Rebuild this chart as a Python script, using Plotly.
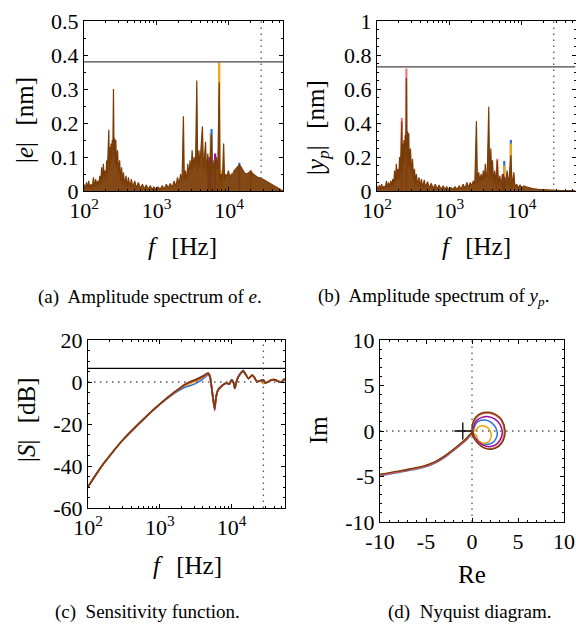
import plotly.graph_objects as go

SERIF = "Liberation Serif"
W, H = 576, 626

# ---------------- data ----------------
# colours of the five runs
C_BLUE = "#2a6fdb"
C_ORANGE = "#f0a30a"
C_PURPLE = "#9b0a9b"
C_PINK = "#f07878"
C_BROWN = "#7a3c06"

F_MAX = 55600.0
F_MARK = 27800.0

# (a) amplitude spectrum of e  [nm]
E_F = [100, 104, 108, 112, 116, 120, 125, 130, 135, 140, 145, 150, 155, 160, 165, 170, 175, 180, 185, 190,
       195, 200, 205, 210, 215, 220, 224, 228, 232, 236, 240, 245, 250, 255, 260, 265, 270, 275, 280, 290,
       300, 310, 320, 330, 340, 350, 365, 380, 395, 410, 430, 450, 470, 500, 530, 560, 600, 640, 680, 720,
       770, 820, 870, 920, 980, 1050, 1120, 1200, 1280, 1370, 1450, 1550, 1650, 1750, 1850, 1950, 2050, 2150,
       2250, 2350, 2420, 2500, 2600, 2700, 2800, 2900, 3000, 3100, 3200, 3300, 3450, 3600, 3700, 3850, 3950,
       4100, 4300, 4450, 4600, 4750, 4900, 5100, 5300, 5500, 5750, 5950, 6200, 6450, 6700, 7000, 7330, 7550,
       7800, 8100, 8440, 8700, 9000, 9400, 9800, 10300, 10800, 11300, 11800, 12400, 13100, 13900, 14700,
       15500, 16500, 17500, 18500, 20000, 21500, 23000, 25000, 27500, 30000, 33000, 36000, 40000, 44000,
       48000, 52000, 55600]
E_A = [0.02, 0.005, 0.025, 0.01, 0.03, 0.008, 0.02, 0.01, 0.04, 0.012, 0.035, 0.015, 0.03, 0.02, 0.045, 0.02,
       0.07, 0.03, 0.08, 0.04, 0.06, 0.03, 0.09, 0.05, 0.12, 0.18, 0.06, 0.13, 0.08, 0.14, 0.09, 0.15, 0.12,
       0.30, 0.10, 0.155, 0.08, 0.15, 0.07, 0.12, 0.05, 0.09, 0.03, 0.07, 0.02, 0.055, 0.015, 0.045, 0.01,
       0.04, 0.01, 0.035, 0.01, 0.03, 0.008, 0.025, 0.008, 0.02, 0.006, 0.018, 0.006, 0.015, 0.005, 0.012,
       0.005, 0.012, 0.005, 0.015, 0.006, 0.02, 0.008, 0.022, 0.01, 0.03, 0.012, 0.04, 0.02, 0.05, 0.025,
       0.22, 0.03, 0.06, 0.03, 0.08, 0.04, 0.09, 0.05, 0.12, 0.06, 0.10, 0.07, 0.325, 0.06, 0.12, 0.07,
       0.13, 0.19, 0.06, 0.10, 0.145, 0.05, 0.11, 0.04, 0.12, 0.165, 0.04, 0.09, 0.05, 0.10, 0.06, 0.32,
       0.03, 0.05, 0.03, 0.14, 0.03, 0.05, 0.04, 0.06, 0.04, 0.05, 0.05, 0.06, 0.065, 0.07, 0.077, 0.07,
       0.06, 0.052, 0.05, 0.053, 0.058, 0.05, 0.045, 0.04, 0.038, 0.033, 0.03, 0.025, 0.018, 0.012,
       0.007, 0.003, 0.0]
E_LIMIT = 0.38
# peaks where the other runs show above the brown one: (freq, amp)
E_PEAKS = {
    C_ORANGE: ([5600, 7330, 8000], [0.17, 0.378, 0.06]),
    C_BLUE: ([5750, 13900], [0.182, 0.083]),
    C_PURPLE: ([5200, 5400, 6450], [0.09, 0.10, 0.11]),
    C_PINK: ([20000], [0.062]),
}

# (b) amplitude spectrum of y_p  [nm]
Y_F = [100, 104, 108, 112, 116, 120, 125, 130, 135, 140, 145, 150, 155, 160, 165, 170, 175, 180, 185, 190,
       195, 200, 205, 210, 215, 220, 224, 228, 232, 236, 240, 245, 250, 255, 260, 265, 270, 275, 280, 290,
       300, 310, 320, 330, 340, 350, 365, 380, 395, 410, 430, 450, 470, 500, 530, 560, 600, 640, 680, 720,
       770, 820, 870, 920, 980, 1050, 1120, 1200, 1280, 1370, 1450, 1550, 1650, 1750, 1850, 1950, 2050, 2150,
       2250, 2370, 2450, 2550, 2650, 2750, 2850, 2950, 3050, 3150, 3250, 3350, 3510, 3620, 3750, 3850, 3950,
       4100, 4250, 4400, 4600, 4800, 5000, 5200, 5450, 5750, 6000, 6300, 6600, 7100, 7400, 7800, 8100, 8500,
       9000, 9500, 10000, 10700, 11500, 12500, 13500, 15000, 17000, 19000, 21000, 24000, 27000, 30000,
       35000, 40000, 47000, 55600]
Y_A = [0.03, 0.01, 0.035, 0.012, 0.04, 0.01, 0.03, 0.015, 0.06, 0.02, 0.05, 0.02, 0.06, 0.03, 0.07, 0.03,
       0.12, 0.05, 0.16, 0.06, 0.13, 0.07, 0.20, 0.10, 0.25, 0.41, 0.12, 0.28, 0.16, 0.30, 0.18, 0.33, 0.25,
       0.665, 0.20, 0.35, 0.15, 0.34, 0.14, 0.25, 0.10, 0.19, 0.06, 0.13, 0.04, 0.10, 0.03, 0.08, 0.02, 0.07,
       0.02, 0.065, 0.02, 0.055, 0.015, 0.045, 0.015, 0.04, 0.01, 0.035, 0.01, 0.03, 0.01, 0.025, 0.008,
       0.02, 0.01, 0.025, 0.01, 0.03, 0.012, 0.04, 0.015, 0.05, 0.02, 0.05, 0.03, 0.06, 0.035, 0.41, 0.04,
       0.11, 0.05, 0.10, 0.06, 0.12, 0.07, 0.16, 0.08, 0.10, 0.496, 0.06, 0.25, 0.08, 0.18, 0.05, 0.12, 0.04,
       0.18, 0.04, 0.09, 0.03, 0.10, 0.08, 0.03, 0.12, 0.03, 0.21, 0.02, 0.11, 0.02, 0.04, 0.02, 0.035,
       0.02, 0.03, 0.025, 0.02, 0.015, 0.012, 0.01, 0.008, 0.006, 0.005, 0.004, 0.004, 0.003, 0.003,
       0.002, 0.002]
Y_LIMIT = 0.73
Y_PEAKS = {
    C_PINK: ([220, 255, 4600], [0.43, 0.72, 0.19]),
    C_BLUE: ([5750, 7100], [0.176, 0.30]),
    C_ORANGE: ([5750, 7100], [0.15, 0.28]),
    C_PURPLE: ([5500, 5800], [0.10, 0.08]),
}

# (c) sensitivity function [dB]
S_F = [100, 130, 168, 220, 321, 450, 615, 850, 1175, 1600, 2000, 2250, 2700, 3090, 3600, 4200, 4700, 5000,
       5400, 5820, 6100, 6480, 7000, 7600, 8500, 9300, 10000, 10600, 11100, 11900, 13000, 14600, 15800,
       17200, 19500, 21000, 22500, 25000, 27900, 29500, 32900, 36000, 40800, 45000, 50000, 53000, 55600]
S_BLUE = [-49.9, -43.9, -38.5, -33.4, -26.8, -21.7, -17.2, -12.8, -8.8, -5.4, -3.3, -2.5, -1.7, -0.9, 0.4, 2.1,
          3.4, 2.4, -4.6, -11.8, -6.6, -3.6, -2.3, -1.3, -0.4, -0.9, 1.1, 0.1, -2.8, 1.2, 3.8, 5.6, 3.6,
          1.8, 3.2, 2.0, 0.3, 0.5, 1.0, -0.4, 0.3, 1.0, 0.9, 0.3, 0.1, 1.0, 1.4]
S_ORANGE = [-49.9, -43.9, -38.5, -33.4, -26.8, -21.7, -17.2, -12.7, -8.6, -5.0, -2.7, -1.7, -0.6, 0.2, 1.3, 2.6,
            4.0, 2.8, -5.0, -12.2, -6.8, -3.7, -2.4, -1.3, -0.5, -1.0, 0.9, -0.1, -3.0, 1.0, 3.4, 5.0, 3.4,
            1.6, 3.4, 1.9, 0.4, 0.4, -0.8, -0.6, 0.4, 1.2, 1.1, 0.3, 0.2, 1.2, 1.8]
S_PURPLE = [-49.9, -43.9, -38.5, -33.4, -26.8, -21.7, -17.2, -12.7, -8.5, -4.8, -2.4, -1.2, 0.0, 0.8, 1.8, 3.0,
            4.2, 2.4, -6.0, -13.5, -7.4, -4.0, -2.6, -1.5, -0.6, -1.1, 0.9, -0.1, -3.2, 0.9, 3.4, 5.0, 3.4,
            1.6, 3.2, 1.9, 0.1, 0.6, 0.9, -0.5, 0.2, 0.9, 1.0, 0.2, -0.1, 0.9, 1.5]
S_PINK = [-49.9, -43.9, -38.5, -33.4, -26.8, -21.7, -17.2, -12.7, -8.5, -4.8, -2.3, -1.1, 0.3, 1.1, 2.1, 3.3,
          4.4, 3.1, -5.0, -12.6, -7.0, -3.8, -2.5, -1.4, -0.5, -1.0, 1.0, 0.0, -3.0, 1.0, 3.5, 5.2, 3.5,
          1.7, 3.3, 2.0, 0.2, 0.6, 1.0, -0.5, 0.2, 1.0, 1.0, 0.2, 0.0, 1.0, 1.5]
S_BROWN = [-49.9, -43.9, -38.5, -33.4, -26.8, -21.7, -17.2, -12.7, -8.5, -4.8, -2.4, -1.2, 0.3, 1.0, 2.0, 3.2,
           4.3, 3.0, -5.0, -12.8, -7.0, -3.8, -2.5, -1.4, -0.5, -1.0, 1.0, 0.0, -3.0, 1.0, 3.5, 5.2, 3.5,
           1.7, 3.3, 2.0, 0.2, 0.6, 1.0, -0.5, 0.2, 1.0, 1.0, 0.2, 0.0, 1.0, 1.5]
S_LIMIT = 6.5

# (d) Nyquist diagram: common low-frequency tail, then one loop per run
TAIL_RE = [-10, -8, -6.5, -5.3, -4, -3, -2.4, -1.7, -0.95, -0.5, -0.2, 0.0]
TAIL_IM = [-4.8, -4.45, -4.15, -3.9, -3.4, -2.8, -2.35, -1.8, -1.17, -0.75, -0.4, -0.2]
LOOP_BLUE_RE = [0.0, 0.25, 0.45, 0.85, 1.4, 2.0, 2.5, 2.75, 2.6, 2.2, 1.6, 1.0, 0.5, 0.2, 0.1]
LOOP_BLUE_IM = [-0.2, 0.4, 0.85, 1.15, 1.2, 1.0, 0.5, -0.2, -0.85, -1.3, -1.46, -1.3, -0.9, -0.5, -0.3]
LOOP_ORANGE_RE = [0.0, 0.5, 0.7, 1.05, 1.5, 1.9, 2.1, 2.0, 1.7, 1.3, 0.9, 0.6, 0.5, 0.3]
LOOP_ORANGE_IM = [-0.2, 0.2, 0.45, 0.58, 0.5, 0.15, -0.4, -0.9, -1.25, -1.35, -1.2, -0.85, -0.5, -0.3]
LOOP_PURPLE_RE = [0.0, 0.2, 0.55, 1.1, 1.8, 2.5, 3.05, 3.3, 3.1, 2.6, 1.9, 1.2, 0.6, 0.25, 0.1]
LOOP_PURPLE_IM = [-0.2, 0.6, 1.2, 1.5, 1.57, 1.3, 0.7, -0.1, -0.9, -1.5, -1.72, -1.55, -1.1, -0.6, -0.3]
LOOP_PINK_RE = [0.0, 0.1, 0.45, 1.05, 1.8, 2.6, 3.2, 3.5, 3.3, 2.8, 2.0, 1.2, 0.6, 0.2, 0.05]
LOOP_PINK_IM = [-0.2, 0.75, 1.4, 1.85, 1.95, 1.7, 1.1, 0.0, -1.0, -1.65, -1.95, -1.8, -1.3, -0.7, -0.3]
LOOP_BROWN_RE = [0.0, 0.07, 0.4, 1.0, 1.8, 2.6, 3.25, 3.6, 3.4, 2.9, 2.1, 1.3, 0.65, 0.2, 0.0, 0.25, -0.05, 0.2, 0.05]
LOOP_BROWN_IM = [-0.2, 0.8, 1.5, 1.95, 2.05, 1.8, 1.2, 0.0, -1.05, -1.7, -2.0, -1.85, -1.35, -0.75, -0.3, -0.55, -0.1, -0.4, 0.05]
CRIT_RE = [-1.0]
CRIT_IM = [0.0]
NYQ_TICKS = [-10, -5, 0, 5, 10]

# ---------------- layout helpers (page pixel -> paper) ----------------
def px_x(p):
    return p / W

def px_y(p):
    return 1 - p / H

DOM = {
    "a": ([84, 283], [21, 191]),
    "b": ([377, 575.5], [21, 191]),
    "c": ([88, 285], [340, 508]),
    "d": ([380, 564], [340, 522]),
}

DOT = "1.5px,4.5px"

fig = go.Figure()
TICKFONT = dict(family=SERIF, size=22, color="black")


def base_axis(dom, horizontal):
    lo, hi = dom
    if horizontal:
        d = [px_x(lo), px_x(hi)]
    else:
        d = [px_y(hi), px_y(lo)]
    return dict(domain=d, showline=True, linecolor="black", linewidth=1, mirror="allticks",
                ticks="inside", ticklen=4, tickcolor="black", tickwidth=1, showgrid=False,
                zeroline=False, tickfont=TICKFONT, fixedrange=True, automargin=False)


def log_x_axis(dom):
    ax = base_axis(dom, True)
    ax.update(type="log", range=[2, 4.745], tickvals=[100, 1000, 10000],
              ticktext=["10<sup>2</sup>", "10<sup>3</sup>", "10<sup>4</sup>"],
              minor=dict(ticks="inside", ticklen=2, tickcolor="black", dtick="D1", showgrid=False))
    return ax


def lin_axis(dom, horizontal, rng, vals, texts, nminor):
    ax = base_axis(dom, horizontal)
    ax.update(range=rng, tickvals=vals, ticktext=texts,
              minor=dict(ticks="inside", ticklen=2, tickcolor="black", nticks=nminor, showgrid=False))
    return ax


axes = {}
axes["xaxis"] = log_x_axis(DOM["a"][0])
axes["yaxis"] = lin_axis(DOM["a"][1], False, [0, 0.5], [0, 0.1, 0.2, 0.3, 0.4, 0.5],
                         ["0", "0.1", "0.2", "0.3", "0.4", "0.5"], 5)
axes["xaxis2"] = log_x_axis(DOM["b"][0])
axes["yaxis2"] = lin_axis(DOM["b"][1], False, [0, 1], [0, 0.2, 0.4, 0.6, 0.8, 1.0],
                          ["0", "0.2", "0.4", "0.6", "0.8", "1"], 5)
axes["xaxis3"] = log_x_axis(DOM["c"][0])
axes["yaxis3"] = lin_axis(DOM["c"][1], False, [-60, 20], [-60, -40, -20, 0, 20],
                          ["-60", "-40", "-20", "0", "20"], 5)
axes["xaxis4"] = lin_axis(DOM["d"][0], True, [-10, 10], NYQ_TICKS, [str(v) for v in NYQ_TICKS], 5)
axes["yaxis4"] = lin_axis(DOM["d"][1], False, [-10, 10], NYQ_TICKS, [str(v) for v in NYQ_TICKS], 5)
for k in ["xaxis", "xaxis2", "xaxis3", "xaxis4"]:
    n = k[5:] or ""
    axes[k]["anchor"] = "y" + n
for k in ["yaxis", "yaxis2", "yaxis3", "yaxis4"]:
    n = k[5:] or ""
    axes[k]["anchor"] = "x" + n


def spikes(freqs, amps):
    xs, ys = [], []
    for f, a in zip(freqs, amps):
        xs += [f, f, f, None]
        ys += [0, a, 0, None]
    return xs, ys


def spectrum(xa, ya, F, A, peaks, limit):
    # other runs (visible only where they exceed the brown one)
    for col, (pf, pa) in peaks.items():
        xs, ys = spikes(pf, pa)
        fig.add_trace(go.Scatter(x=xs, y=ys, mode="lines", line=dict(color=col, width=2.2),
                                 xaxis=xa, yaxis=ya, showlegend=False, hoverinfo="skip"))
    fig.add_trace(go.Scatter(x=F, y=A, mode="lines", line=dict(color=C_BROWN, width=1.2),
                             fill="tozeroy", fillcolor="rgba(122,60,6,0.93)",
                             xaxis=xa, yaxis=ya, showlegend=False, hoverinfo="skip"))
    fig.add_trace(go.Scatter(x=[100, F_MAX], y=[limit, limit], mode="lines",
                             line=dict(color="#444444", width=1.2), xaxis=xa, yaxis=ya,
                             showlegend=False, hoverinfo="skip"))


spectrum("x", "y", E_F, E_A, E_PEAKS, E_LIMIT)
spectrum("x2", "y2", Y_F, Y_A, Y_PEAKS, Y_LIMIT)

for col, vals in [(C_BLUE, S_BLUE), (C_ORANGE, S_ORANGE), (C_PURPLE, S_PURPLE), (C_PINK, S_PINK),
                  (C_BROWN, S_BROWN)]:
    fig.add_trace(go.Scatter(x=S_F, y=vals, mode="lines",
                             line=dict(color=col, width=1.6, shape="spline", smoothing=0.6),
                             xaxis="x3", yaxis="y3", showlegend=False, hoverinfo="skip"))
fig.add_trace(go.Scatter(x=[100, F_MAX], y=[S_LIMIT, S_LIMIT], mode="lines",
                         line=dict(color="black", width=1.2), xaxis="x3", yaxis="y3",
                         showlegend=False, hoverinfo="skip"))
fig.add_trace(go.Scatter(x=[100, F_MAX], y=[0, 0], mode="lines",
                         line=dict(color="#555555", width=1.3, dash=DOT), xaxis="x3", yaxis="y3",
                         showlegend=False, hoverinfo="skip"))

# dotted frequency marker
for xa, ya, rng in [("x", "y", [0, 0.5]), ("x2", "y2", [0, 1]), ("x3", "y3", [-60, 20])]:
    fig.add_trace(go.Scatter(x=[F_MARK, F_MARK], y=rng, mode="lines",
                             line=dict(color="#555555", width=1.3, dash=DOT), xaxis=xa, yaxis=ya,
                             showlegend=False, hoverinfo="skip"))

# Nyquist
fig.add_trace(go.Scatter(x=[-10, 10], y=[0, 0], mode="lines",
                         line=dict(color="#555555", width=1.3, dash=DOT), xaxis="x4", yaxis="y4",
                         showlegend=False, hoverinfo="skip"))
fig.add_trace(go.Scatter(x=[0, 0], y=[-10, 10], mode="lines",
                         line=dict(color="#555555", width=1.3, dash=DOT), xaxis="x4", yaxis="y4",
                         showlegend=False, hoverinfo="skip"))
for col, lre, lim, dy in [(C_BLUE, LOOP_BLUE_RE, LOOP_BLUE_IM, -0.12), (C_ORANGE, LOOP_ORANGE_RE, LOOP_ORANGE_IM, -0.06),
                          (C_PURPLE, LOOP_PURPLE_RE, LOOP_PURPLE_IM, -0.03), (C_PINK, LOOP_PINK_RE, LOOP_PINK_IM, 0.0),
                          (C_BROWN, LOOP_BROWN_RE, LOOP_BROWN_IM, 0.04)]:
    xs = TAIL_RE + lre
    ys = [v + dy for v in TAIL_IM] + lim
    fig.add_trace(go.Scatter(x=xs, y=ys, mode="lines", line=dict(color=col, width=1.5, shape="spline"),
                             xaxis="x4", yaxis="y4", showlegend=False, hoverinfo="skip"))
fig.add_trace(go.Scatter(x=CRIT_RE, y=CRIT_IM, mode="markers",
                         marker=dict(symbol="cross-thin", size=12, line=dict(color="black", width=1.3)),
                         xaxis="x4", yaxis="y4", showlegend=False, hoverinfo="skip"))

# ---------------- texts ----------------
TITLE = dict(family=SERIF, size=25, color="black")
CAP = dict(family=SERIF, size=19, color="black")
ann = []


def text(x, y, s, font, angle=0):
    ann.append(dict(x=px_x(x), y=px_y(y), xref="paper", yref="paper", text=s, showarrow=False,
                    font=font, textangle=angle, xanchor="center", yanchor="middle"))


SP = "\u2009\u2009"
text(182, 246, "<i>f</i>" + SP + " [Hz]", TITLE)
text(476, 246, "<i>f</i>" + SP + " [Hz]", TITLE)
text(187, 565, "<i>f</i>" + SP + " [Hz]", TITLE)
text(472, 574, "Re", TITLE)
text(24, 120, "|<i>e</i>|" + SP + " [nm]", TITLE, -90)
text(317, 128, "|<i>y<sub>p</sub></i>|" + SP + " [nm]", TITLE, -90)
text(26, 420, "|<i>S</i>|" + SP + " [dB]", TITLE, -90)
text(318, 430, "Im", TITLE, -90)
text(150, 297, "(a)  Amplitude spectrum of <i>e</i>.", CAP)
text(433, 297, "(b)  Amplitude spectrum of <i>y<sub>p</sub></i>.", CAP)
text(147, 612, "(c)  Sensitivity function.", CAP)
text(470, 612, "(d)  Nyquist diagram.", CAP)

fig.update_layout(width=W, height=H, margin=dict(l=0, r=0, t=0, b=0), plot_bgcolor="white",
                  paper_bgcolor="white", showlegend=False, annotations=ann, **axes)
fig.write_html("out.html", config={"displayModeBar": False, "staticPlot": True},
               post_script="document.body.style.margin='0';document.body.style.overflow='hidden';")
